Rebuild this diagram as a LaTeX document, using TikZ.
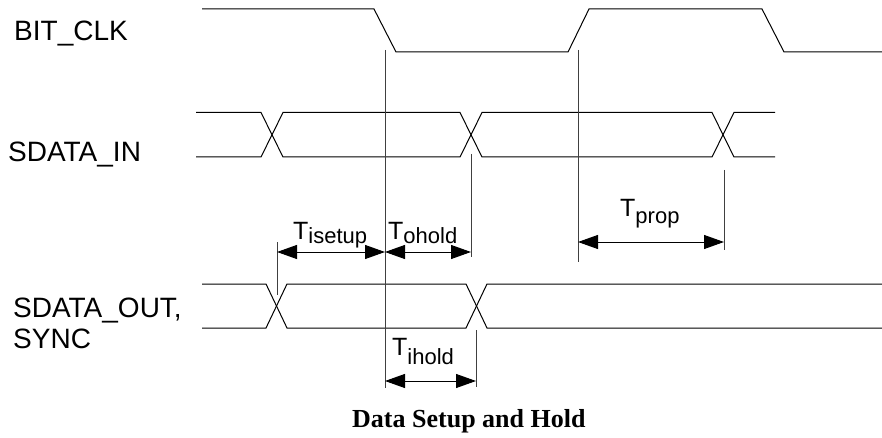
\documentclass[tikz,border=0pt]{standalone}
\usepackage{fontspec}
\setmainfont{Liberation Sans}
\newfontfamily\capfont{Liberation Serif}
\usetikzlibrary{arrows.meta}
\newcommand{\Tsub}[2]{{\fontsize{25}{25}\selectfont T}\raisebox{-#2pt}{\fontsize{22}{22}\selectfont #1}}
\tikzset{
  sig/.style={line width=1pt, black},
  vline/.style={line width=1pt, black!75},
  tick/.style={line width=1pt, black!75},
  dim/.style={line width=1pt, {Triangle[length=20pt,width=14pt]}-{Triangle[length=20pt,width=14pt]}},
  lab/.style={anchor=base west, inner sep=0pt, font=\fontsize{28}{32}\selectfont},
  tlab/.style={anchor=base west, inner sep=0pt},
}
\begin{document}
\begin{tikzpicture}[x=1pt,y=-1pt]
\useasboundingbox (0,0) rectangle (882,438);
% labels
\node[lab] (lclk) at (14,41) {BIT\_CLK};
\node[lab] (lin) at (8,162) {SDATA\_IN};
\node[lab] (lout) at (13,317) {SDATA\_OUT,};
\node[lab] (lsync) at (13,348) {SYNC};
% BIT_CLK
\draw[sig] (202,9) -- (374,9) -- (396,52) -- (568,52) -- (589,9) -- (762,9) -- (784,52) -- (882,52);
% SDATA_IN
\draw[sig] (196,112.5) -- (261,112.5) -- (283,157) -- (460,157) -- (482,112.5) -- (712,112.5) -- (734,157) -- (775,157);
\draw[sig] (196,157) -- (261,157) -- (283,112.5) -- (460,112.5) -- (482,157) -- (712,157) -- (734,112.5) -- (775,112.5);
% SDATA_OUT
\draw[sig] (202,284) -- (266,284) -- (287,328) -- (466,328) -- (487,284) -- (882,284);
\draw[sig] (202,328) -- (266,328) -- (287,284) -- (466,284) -- (487,328) -- (882,328);
% reference lines
\coordinate (c1t) at (385,50);
\coordinate (c1b) at (385,388);
\coordinate (c2t) at (578,50);
\coordinate (c2b) at (578,262);
\draw[vline] (c1t) -- (c1b);
\draw[vline] (c2t) -- (c2b);
% ticks
\coordinate (s1t) at (277,242); \coordinate (s1b) at (277,295);
\draw[tick] (s1t) -- (s1b);
\coordinate (h1t) at (471,154); \coordinate (h1b) at (471,257);
\draw[tick] (h1t) -- (h1b);
\coordinate (p1t) at (724,170); \coordinate (p1b) at (724,250);
\draw[tick] (p1t) -- (p1b);
\coordinate (i1t) at (476,330); \coordinate (i1b) at (476,387);
\draw[tick] (i1t) -- (i1b);
% dimension arrows
\coordinate (aS1) at (277,252); \coordinate (aS2) at (385,252); \coordinate (aS3) at (471,252);
\draw[dim] (aS1) -- (aS2);
\draw[dim] (aS2) -- (aS3);
\coordinate (aP1) at (578,242); \coordinate (aP2) at (724,242);
\draw[dim] (aP1) -- (aP2);
\coordinate (aI1) at (385,381); \coordinate (aI2) at (476,381);
\draw[dim] (aI1) -- (aI2);
% timing labels
\node[tlab] (tset) at (293,239) {\Tsub{isetup}{4}};
\node[tlab] (toh) at (388,239) {\Tsub{ohold}{4}};
\node[tlab] (tpr) at (620,217) {\Tsub{prop}{6}};
\node[tlab] (tih) at (392,355) {\Tsub{ihold}{9}};
% caption
\node[anchor=base west, inner sep=0pt, font=\capfont\bfseries\fontsize{26}{30}\selectfont] (cap) at (352,427) {Data Setup and Hold};
\end{tikzpicture}
\end{document}
